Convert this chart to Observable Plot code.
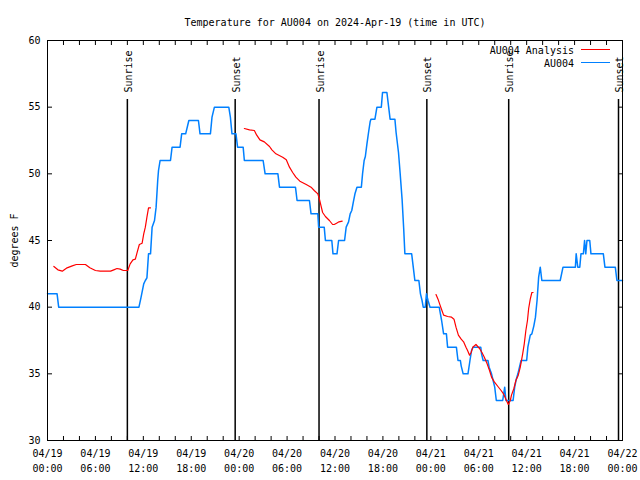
<!DOCTYPE html>
<html><head><meta charset="utf-8">
<script src="https://cdn.jsdelivr.net/npm/d3@7"></script>
<script src="https://cdn.jsdelivr.net/npm/@observablehq/plot@0.6"></script>
<style>
body{margin:0;background:#fff;}
#wrap{position:relative;width:640px;height:480px;font-family:"DejaVu Sans Mono",monospace;font-size:10px;color:#000;}
#legend{position:absolute;right:66px;top:44px;text-align:right;line-height:13px;white-space:pre;}
.sw{position:absolute;left:581px;width:29px;height:1px;}
</style></head><body>
<div id="wrap"></div>
<script>
const title = "Temperature for AU004 on 2024-Apr-19 (time in UTC)";
const yLabel = "degrees F";
const seriesNames = ["AU004 Analysis", "AU004"];
const seriesColors = ["#ff0000", "#0080ff"];
const yTicks = [30, 35, 40, 45, 50, 55, 60];
const xLabelHours = [0, 6, 12, 18, 24, 30, 36, 42, 48, 54, 60, 66, 72];
const xLabels = ["04/19\n00:00","04/19\n06:00","04/19\n12:00","04/19\n18:00","04/20\n00:00","04/20\n06:00","04/20\n12:00","04/20\n18:00","04/21\n00:00","04/21\n06:00","04/21\n12:00","04/21\n18:00","04/22\n00:00"];
const xMinorHours = [0,2,4,6,8,10,12,14,16,18,20,22,24,26,28,30,32,34,36,38,40,42,44,46,48,50,52,54,56,58,60,62,64,66,68,70,72];
const eventHours = [10, 23.5, 34, 47.5, 57.75, 71.5];
const eventNames = ["Sunrise", "Sunset", "Sunrise", "Sunset", "Sunrise", "Sunset"];

// observed AU004 temperature: [hours since 2024-04-19 00:00 UTC, degF]
const observed = [
[0,41],[1.2,41],[1.4,40],[11.45,40],[11.7,40.7],[11.8,41],[12.05,41.75],[12.25,42],[12.45,42.2],[12.65,44],[12.9,44],[13.1,46],[13.4,46.5],[13.6,47.5],[13.7,48.5],[13.8,49.5],[13.9,50.25],[14.1,51],[15.4,51],[15.6,52],[16.6,52],[16.8,53],[17.3,53],[17.7,54],[18.9,54],[19.1,53],[20.4,53],[20.6,54.25],[20.9,55],[22.7,55],[22.9,54.25],[23.1,53],[23.6,53],[23.8,52],[24.5,52],[24.65,51],[27.0,51],[27.25,50],[28.85,50],[29.05,49],[31.05,49],[31.25,48],[32.8,48],[33.0,47],[33.85,47],[33.95,46],[34.65,46],[34.8,45],[35.6,45],[35.75,44],[36.25,44],[36.45,45],[37.2,45],[37.4,46],[37.7,46.4],[37.9,47],[38.1,47.25],[38.3,47.9],[38.5,48.5],[38.75,49],[39.3,49],[39.45,50],[39.65,51],[39.8,51.3],[40.0,52.25],[40.2,53.1],[40.4,53.9],[40.5,54.1],[41.0,54.1],[41.25,55],[41.8,55],[41.95,56.1],[42.5,56.1],[42.7,55.1],[42.9,54.1],[43.5,54.1],[43.65,53.1],[43.95,51.6],[44.15,50.1],[44.4,48.1],[44.6,45.9],[44.75,44],[45.6,44],[45.8,43],[46.0,42],[46.5,42],[46.7,41],[46.9,40.5],[47.05,40],[47.3,40],[47.45,41],[47.65,40.5],[47.9,40],[49.05,40],[49.2,39.5],[49.35,39],[49.6,38],[49.95,38],[50.1,37],[51.2,37],[51.4,36],[51.7,36],[51.8,35.6],[52.05,35],[52.65,35],[52.9,36],[53.1,36.75],[53.3,37],[54.25,37],[54.35,36.5],[54.55,36],[55.15,36],[55.3,35.5],[55.6,35],[55.8,34.5],[56.0,34],[56.2,33],[57.0,33],[57.25,34],[57.4,33],[58.3,33],[58.5,34],[58.7,34.6],[58.9,35],[59.1,35.5],[59.3,36],[60.0,36],[60.15,37],[60.45,37.9],[60.65,38],[60.9,38.6],[61.1,39.25],[61.3,40.5],[61.5,42.25],[61.7,43],[61.9,42],[64.2,42],[64.55,43],[66.1,43],[66.2,44],[66.4,43],[66.65,43],[66.8,44],[67.1,44],[67.25,45],[67.4,44],[67.55,45],[67.9,45],[68.05,44],[69.6,44],[69.8,43],[71.1,43],[71.3,42],[72,42]
];

// AU004 analysis, three segments
const analysis1 = [[0.8,43.05],[1.3,42.8],[1.85,42.7],[2.45,42.95],[3.1,43.1],[3.6,43.2],[4.75,43.2],[5.3,42.95],[6.0,42.75],[6.6,42.7],[7.9,42.7],[8.3,42.8],[8.7,42.9],[9.1,42.85],[9.5,42.75],[10.05,42.75],[10.35,43.25],[10.7,43.55],[11.0,43.6],[11.2,44.05],[11.5,44.7],[11.85,44.8],[12.05,45.5],[12.25,46],[12.45,46.75],[12.65,47.45],[12.9,47.45]];
const analysis2 = [[24.65,53.4],[25.3,53.3],[25.9,53.25],[26.2,52.9],[26.6,52.55],[27.15,52.4],[27.8,52.05],[28.1,51.8],[28.6,51.5],[29.45,51.25],[29.9,51.05],[30.3,50.5],[30.7,50.1],[31.1,49.75],[31.6,49.45],[32.4,49.2],[33.0,49],[33.4,48.75],[33.85,48.5],[34.05,48.1],[34.25,47.6],[34.45,47.1],[34.8,46.8],[35.3,46.5],[35.7,46.2],[35.9,46.2],[36.2,46.3],[36.5,46.4],[36.9,46.45]];
const analysis3 = [[48.65,40.95],[48.9,40.6],[49.1,40.25],[49.3,39.9],[49.6,39.4],[50.1,39.3],[50.6,39.25],[50.9,39.1],[51.15,38.5],[51.45,37.9],[51.8,37.6],[52.1,37.4],[52.4,37],[52.6,36.75],[52.85,36.4],[53.05,36.6],[53.25,37],[53.65,37.2],[54.1,36.9],[54.4,36.6],[54.7,36.25],[55.05,35.75],[55.35,35.25],[55.6,34.75],[55.95,34.4],[56.4,34.05],[56.8,33.75],[57.1,33.5],[57.4,33.1],[57.7,32.7],[57.95,33],[58.1,33.4],[58.4,33.9],[58.65,34.5],[58.95,34.9],[59.2,35.5],[59.5,36.5],[59.7,37.25],[59.9,38.25],[60.1,39],[60.25,39.9],[60.45,40.6],[60.65,41.1],[60.8,41.1]];

const t0 = Date.UTC(2024, 3, 19);
const toDate = h => new Date(t0 + h * 3600e3);
const minorDates = xMinorHours.map(toDate);
const labelRows = xLabelHours.map((h, i) => ({date: toDate(h), label: xLabels[i]}));
const events = eventHours.map((h, i) => ({date: toDate(h), name: eventNames[i]}));
const obsRows = observed.map(([h, t]) => ({date: toDate(h), temp: t}));
const anaRows = [analysis1, analysis2, analysis3].flatMap((seg, k) => seg.map(([h, t]) => ({date: toDate(h), temp: t, seg: k})));

const font = "DejaVu Sans Mono";
const plot = Plot.plot({
  width: 640, height: 480,
  marginTop: 40, marginBottom: 40, marginLeft: 47, marginRight: 18,
  style: {fontFamily: font, fontSize: "10px", background: "white", color: "black", overflow: "visible"},
  x: {type: "utc", domain: [toDate(0), toDate(72)]},
  y: {domain: [30, 60]},
  marks: [
    Plot.axisY(yTicks, {anchor: "left", tickSize: 0, tickPadding: 7, label: yLabel, labelAnchor: "center", labelArrow: "none", labelOffset: 37}),
    Plot.axisY(yTicks, {anchor: "left", tickSize: -5, tickFormat: () => "", label: null}),
    Plot.axisY(yTicks, {anchor: "right", tickSize: -5, tickFormat: () => "", label: null}),
    Plot.axisX(minorDates, {anchor: "bottom", tickSize: -4, tickFormat: () => "", label: null}),
    Plot.axisX(minorDates, {anchor: "top", tickSize: -4, tickFormat: () => "", label: null}),
    Plot.text(labelRows, {x: "date", text: "label", frameAnchor: "bottom", lineAnchor: "top", dy: 6, lineHeight: 1.5}),
    Plot.ruleX(events, {x: "date", insetTop: 59, stroke: "black", strokeWidth: 1.5}),
    Plot.text(events, {x: "date", text: "name", frameAnchor: "top", rotate: -90, textAnchor: "start", dy: 52, dx: -2.5}),
    Plot.line(obsRows, {x: "date", y: "temp", stroke: seriesColors[1], strokeWidth: 1.5}),
    Plot.line(anaRows, {x: "date", y: "temp", z: "seg", stroke: seriesColors[0], strokeWidth: 1.2}),
    Plot.frame({stroke: "black"}),
    Plot.text([title], {frameAnchor: "top", dy: -22, text: d => d})
  ]
});
const wrap = document.getElementById("wrap");
wrap.appendChild(plot);
const leg = document.createElement("div");
leg.id = "legend";
leg.textContent = seriesNames.join("\n");
wrap.appendChild(leg);
seriesColors.forEach((c, i) => {
  const s = document.createElement("div");
  s.className = "sw";
  s.style.top = (49 + i * 13) + "px";
  s.style.background = c;
  wrap.appendChild(s);
});
</script>
</body></html>
